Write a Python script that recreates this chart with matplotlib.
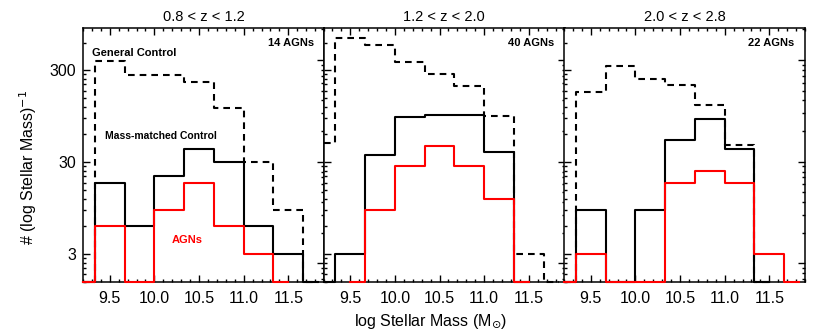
import numpy as np
import matplotlib
matplotlib.use("Agg")
import matplotlib.pyplot as plt
from matplotlib.ticker import FixedLocator, NullFormatter, FixedFormatter, MultipleLocator, FormatStrFormatter, LogLocator

plt.rcParams['font.family'] = ['Liberation Sans', 'DejaVu Sans']
plt.rcParams['mathtext.fontset'] = 'dejavusans'

# ---------------- data ----------------
bin_centers = [9.1667, 9.5, 9.8333, 10.1667, 10.5, 10.8333, 11.1667, 11.5, 11.8333]
nan = float('nan')

titles = ["0.8 < z < 1.2", "1.2 < z < 2.0", "2.0 < z < 2.8"]
agn_labels = ["14 AGNs", "40 AGNs", "22 AGNs"]

general_p1 = [0, 375, 264, 264, 222, 117, 30, 9, 0]
matched_p1 = [0, 18, 6, 21, 42, 30, 6, 3, 0]
agn_p1     = [0, 6, 0, 9, 18, 6, 3, 0, nan]

general_p2 = [48, 665, 560, 370, 276, 201, 95, 3, 0]
matched_p2 = [0, 3, 36, 92, 97, 97, 39, 0, nan]
agn_p2     = [nan, 0, 9, 27, 45, 27, 12, 0, nan]

general_p3 = [0, 173, 332, 238, 206, 127, 45.5, 0, nan]
matched_p3 = [0, 9, 0, 9, 52, 89, 42, 0, nan]
agn_p3     = [0, 3, 0, 0, 18, 24, 18, 3, 0]

general = [general_p1, general_p2, general_p3]
matched = [matched_p1, matched_p2, matched_p3]
agns = [agn_p1, agn_p2, agn_p3]

y_major = [3, 30, 300]
y_major_labels = ["3", "30", "300"]

# ---------------- figure ----------------
W, H = 830, 332
fig = plt.figure(figsize=(W / 100, H / 100), dpi=100)

XLIM = (9.2, 11.9)
YLIM = (1.5, 870)
YLIM_R = (0.659, 208)

lefts = [83, 323.5, 564]
pw = 241
bottom_px = 50.3
ph = 254


def hist_idl(ax, centers, vals, ymin, **kw):
    c = np.asarray(centers, float)
    v = np.asarray(vals, float)
    m = np.isfinite(v)
    c, v = c[m], v[m]
    mids = (c[:-1] + c[1:]) / 2
    edges = np.concatenate([[c[0]], mids, [c[-1]]])
    xs = np.repeat(edges, 2)[1:-1]
    ys = np.clip(np.repeat(v, 2), ymin, None)
    xlo, xhi = ax.get_xlim()
    xs = np.clip(xs, xlo, xhi)
    ax.plot(xs, ys, clip_on=False, zorder=3, **kw)


y_minor = [k * 3 * 10.0 ** n for n in range(-1, 3) for k in range(2, 10)]
y_minor = [v for v in y_minor if YLIM[0] <= v <= YLIM[1]]

for i in range(3):
    ax = fig.add_axes([lefts[i] / W, bottom_px / H, pw / W, ph / H])
    ax.set_xlim(*XLIM)
    ax.set_yscale('log')
    ax.set_ylim(*YLIM)

    hist_idl(ax, bin_centers, general[i], YLIM[0], color='black', lw=1.5,
             linestyle=(0, (3.2, 2.4)))
    hist_idl(ax, bin_centers, matched[i], YLIM[0], color='black', lw=1.5)
    hist_idl(ax, bin_centers, agns[i], YLIM[0], color='#ff0000', lw=1.5)

    ax.yaxis.set_major_locator(FixedLocator(y_major))
    ax.yaxis.set_minor_locator(FixedLocator(y_minor))
    ax.yaxis.set_minor_formatter(NullFormatter())
    if i == 0:
        ax.yaxis.set_major_formatter(FixedFormatter(y_major_labels))
    else:
        ax.yaxis.set_major_formatter(NullFormatter())

    ax.xaxis.set_major_locator(MultipleLocator(0.5))
    ax.xaxis.set_minor_locator(MultipleLocator(0.1))
    ax.xaxis.set_major_formatter(FormatStrFormatter('%.1f'))

    ax.tick_params(which='both', direction='in', top=True, right=False,
                   width=1.0, labelsize=11.5)
    ax.tick_params(which='major', length=5)
    ax.tick_params(which='minor', length=2.5)
    ax.tick_params(axis='x', pad=7)
    ax.tick_params(axis='y', pad=5)
    for s in ax.spines.values():
        s.set_linewidth(1.1)

    # secondary right axis (unlabelled)
    ax2 = ax.twinx()
    ax2.set_yscale('log')
    ax2.set_ylim(*YLIM_R)
    ax2.yaxis.set_major_locator(LogLocator(base=10))
    ax2.yaxis.set_minor_locator(LogLocator(base=10, subs=np.arange(2, 10)))
    ax2.yaxis.set_major_formatter(NullFormatter())
    ax2.yaxis.set_minor_formatter(NullFormatter())
    ax2.tick_params(which='both', direction='in', width=1.0)
    ax2.tick_params(which='major', length=5)
    ax2.tick_params(which='minor', length=2.5)
    for s in ax2.spines.values():
        s.set_visible(False)

    ax.set_title(titles[i], fontsize=10.5, pad=5)
    ax.text(0.957, 0.94, agn_labels[i], transform=ax.transAxes,
            ha='right', va='center', fontsize=8, fontweight='bold')

    if i == 0:
        ax.text(0.036, 0.90, "General Control", transform=ax.transAxes,
                ha='left', va='center', fontsize=8, fontweight='bold')
        ax.text(0.091, 0.574, "Mass-matched Control", transform=ax.transAxes,
                ha='left', va='center', fontsize=7.5, fontweight='bold')
        ax.text(0.369, 0.164, "AGNs", transform=ax.transAxes,
                ha='left', va='center', fontsize=8, fontweight='bold',
                color='#ff0000')

fig.text(28 / W, 1 - 167 / H, r"# (log Stellar Mass)$^{-1}$", rotation=90,
         ha='center', va='center', fontsize=11.5)
fig.text(431 / W, 1 - 321.7 / H, r"log Stellar Mass (M$_{\odot}$)",
         ha='center', va='center', fontsize=11.5)

fig.savefig("out.png", dpi=100)
